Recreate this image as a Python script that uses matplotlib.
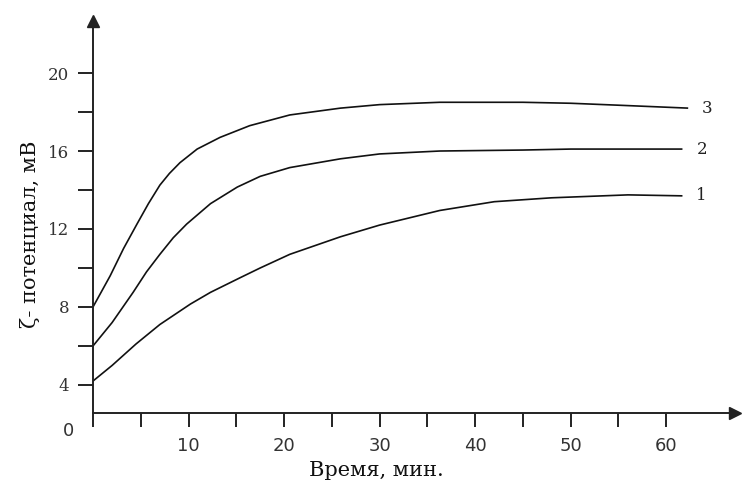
import matplotlib
matplotlib.use("Agg")
import matplotlib.pyplot as plt

# Data
t1 = [0, 2, 4.5, 7, 10.2, 12.3, 15.4, 17.5, 20.6, 25.9, 30, 36.3, 42, 48, 56, 61.7]
z1 = [4.2, 5.0, 6.1, 7.1, 8.15, 8.75, 9.5, 10.0, 10.7, 11.6, 12.2, 12.95, 13.4, 13.6, 13.75, 13.7]

t2 = [0, 2, 4.2, 5.6, 7.0, 8.4, 9.8, 12.3, 15.1, 17.5, 20.6, 25.9, 30, 36.3, 45, 50, 61.7]
z2 = [6.0, 7.2, 8.75, 9.8, 10.7, 11.55, 12.25, 13.3, 14.15, 14.7, 15.15, 15.6, 15.85, 16.0, 16.05, 16.1, 16.1]

t3 = [0, 1.8, 3.2, 4.6, 5.8, 7.0, 8.0, 9.1, 10.9, 13.3, 16.4, 20.6, 25.9, 30, 36.3, 45, 50, 55, 62.3]
z3 = [8.0, 9.6, 11.0, 12.25, 13.3, 14.25, 14.85, 15.4, 16.1, 16.7, 17.3, 17.85, 18.2, 18.38, 18.5, 18.5, 18.45, 18.35, 18.2]

curve_names = ["1", "2", "3"]
x_ticks = [0, 5, 10, 15, 20, 25, 30, 35, 40, 45, 50, 55, 60]
x_labels = ["", "", "10", "", "20", "", "30", "", "40", "", "50", "", "60"]
y_ticks = [4, 6, 8, 10, 12, 14, 16, 18, 20]
y_labels = ["4", "", "8", "", "12", "", "16", "", "20"]

fig = plt.figure(figsize=(7.42, 4.97), dpi=100)
ax = fig.add_axes([93/742, 84/497, 642/742, 392/497])

serif = "DejaVu Serif"
for t, z in [(t1, z1), (t2, z2), (t3, z3)]:
    ax.plot(t, z, color="#111111", lw=1.2, solid_capstyle="butt", solid_joinstyle="round")

for t, z, name in zip([t1, t2, t3], [z1, z2, z3], curve_names):
    ax.annotate(name, xy=(t[-1], z[-1]), xytext=(10, 0), textcoords="offset points",
                ha="left", va="center", fontsize=12, family=serif, color="#222222")

ax.set_xlim(0, 67.2)
ax.set_ylim(2.56, 22.67)

for s in ["top", "right"]:
    ax.spines[s].set_visible(False)
for s in ["left", "bottom"]:
    ax.spines[s].set_linewidth(1.4)
    ax.spines[s].set_color("#222222")

# arrow heads
ax.plot(1, 0, ">", color="#222222", markersize=8, transform=ax.transAxes, clip_on=False)
ax.plot(0, 1, "^", color="#222222", markersize=9, transform=ax.transAxes, clip_on=False)

ax.set_xticks(x_ticks)
ax.set_xticklabels(x_labels, fontsize=13, family="DejaVu Sans", color="#333333")
ax.set_yticks(y_ticks)
ax.set_yticklabels(y_labels, fontsize=12, family=serif, color="#333333")
ax.tick_params(axis="x", direction="out", length=10, width=1.4, pad=7, color="#222222")
ax.tick_params(axis="y", direction="out", length=11, width=1.4, pad=6, color="#222222")

ax.annotate("0", xy=(0, 2.56), xytext=(-18, -13), textcoords="offset points",
            ha="center", va="center", fontsize=13, family="DejaVu Sans", color="#333333")

ax.set_xlabel("Время, мин.", fontsize=15, family=serif, color="#111111")
ax.xaxis.set_label_coords(0.441, -0.123)
ax.set_ylabel("ζ- потенциал, мВ", fontsize=15, family=serif, color="#111111")
ax.yaxis.set_label_coords(-0.083, 0.457)

fig.savefig("out.png", dpi=100)
